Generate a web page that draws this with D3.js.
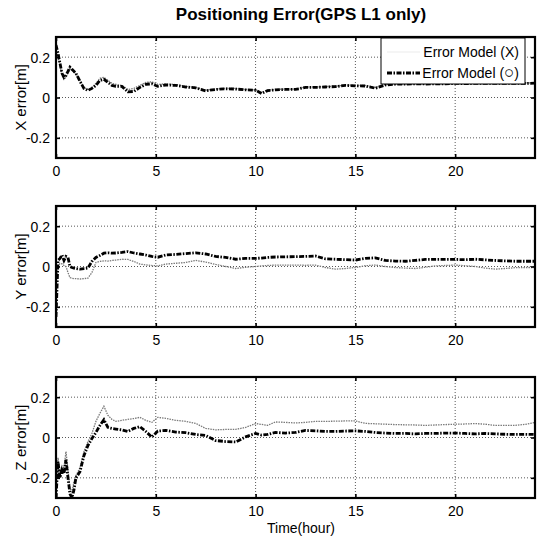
<!DOCTYPE html>
<html>
<head>
<meta charset="utf-8">
<script src="https://cdn.jsdelivr.net/npm/d3@7"></script>
<style>
  body { margin: 0; background: #fff; }
  text { font-family: "Liberation Sans", Arial, sans-serif; fill: #000; }
</style>
</head>
<body>
<div class="chart"></div>
<script>
// time axis (hours)
const timeHours = [0, 0.1, 0.2, 0.3, 0.4, 0.5, 0.6, 0.7, 0.8, 0.9, 1.0, 1.2, 1.4, 1.6, 1.8,
  2.0, 2.2, 2.4, 2.6, 2.8, 3.0, 3.3, 3.6, 3.9, 4.2, 4.5, 4.8, 5.1, 5.5, 6, 6.5, 7, 7.5, 8,
  8.5, 9, 9.5, 10, 10.3, 10.6, 11, 11.5, 12, 12.5, 13, 13.5, 14, 14.5, 15, 15.5, 16, 16.5,
  17, 17.5, 18, 18.5, 19, 19.5, 20, 20.5, 21, 21.5, 22, 22.5, 23, 23.5, 24];

// X error [m]
const xErrModelX = [0.24, 0.20, 0.16, 0.11, 0.09, 0.10, 0.12, 0.14, 0.135, 0.125, 0.115, 0.085, 0.05, 0.04, 0.05,
  0.07, 0.095, 0.1, 0.085, 0.07, 0.065, 0.06, 0.04, 0.045, 0.06, 0.075, 0.078, 0.065, 0.068, 0.064, 0.055, 0.05, 0.036, 0.042,
  0.046, 0.045, 0.04, 0.038, 0.025, 0.036, 0.04, 0.042, 0.042, 0.052, 0.052, 0.055, 0.056, 0.062, 0.06, 0.06, 0.05, 0.064,
  0.068, 0.068, 0.07, 0.069, 0.07, 0.07, 0.072, 0.071, 0.072, 0.072, 0.073, 0.072, 0.072, 0.072, 0.073];
const xErrModelO = [0.26, 0.22, 0.17, 0.12, 0.10, 0.11, 0.13, 0.15, 0.14, 0.13, 0.12, 0.08, 0.045, 0.035, 0.045,
  0.06, 0.085, 0.09, 0.075, 0.06, 0.055, 0.055, 0.028, 0.03, 0.05, 0.065, 0.068, 0.055, 0.062, 0.06, 0.052, 0.048, 0.033, 0.04,
  0.043, 0.042, 0.038, 0.036, 0.02, 0.034, 0.038, 0.04, 0.04, 0.05, 0.05, 0.052, 0.054, 0.06, 0.058, 0.057, 0.046, 0.062,
  0.066, 0.066, 0.068, 0.067, 0.068, 0.068, 0.07, 0.069, 0.07, 0.07, 0.071, 0.07, 0.07, 0.07, 0.071];

// Y error [m]
const yErrModelX = [-0.1, 0.0, 0.015, 0.013, 0.005, 0.0, -0.03, -0.055, -0.058, -0.06, -0.06, -0.062, -0.06, -0.058, -0.03,
  0.02, 0.025, 0.028, 0.027, 0.03, 0.032, 0.036, 0.035, 0.025, 0.012, 0.008, 0.005, 0.003, 0.012, 0.016, 0.02, 0.03, 0.022, 0.01,
  0.0, -0.01, -0.004, 0.0, 0.003, 0.005, 0.007, 0.007, 0.007, 0.006, 0.007, -0.005, -0.013, -0.01, -0.005, 0.004, 0.007, 0.0,
  -0.005, -0.008, -0.01, -0.004, 0.003, 0.005, 0.007, 0.004, 0.0, -0.008, -0.013, -0.01, -0.006, -0.005, -0.005];
const yErrModelO = [-0.25, 0.03, 0.04, 0.057, 0.03, 0.05, 0.045, 0.0, -0.005, -0.008, -0.01, -0.013, -0.01, -0.008, 0.025,
  0.045, 0.055, 0.066, 0.068, 0.066, 0.067, 0.07, 0.074, 0.067, 0.062, 0.057, 0.05, 0.046, 0.057, 0.06, 0.064, 0.068, 0.062, 0.05,
  0.045, 0.036, 0.04, 0.04, 0.042, 0.045, 0.047, 0.048, 0.049, 0.05, 0.052, 0.038, 0.036, 0.034, 0.032, 0.04, 0.043, 0.03,
  0.027, 0.026, 0.03, 0.035, 0.035, 0.035, 0.035, 0.034, 0.036, 0.033, 0.03, 0.028, 0.026, 0.026, 0.026];

// Z error [m]
const zErrModelX = [-0.28, -0.1, -0.18, -0.14, -0.15, -0.07, -0.16, -0.25, -0.27, -0.22, -0.19, -0.15, -0.07, -0.02, 0.02,
  0.08, 0.12, 0.155, 0.11, 0.09, 0.08, 0.085, 0.09, 0.094, 0.1, 0.085, 0.075, 0.1, 0.095, 0.085, 0.08, 0.07, 0.045, 0.038,
  0.04, 0.04, 0.05, 0.069, 0.065, 0.06, 0.077, 0.075, 0.072, 0.075, 0.08, 0.08, 0.081, 0.082, 0.082, 0.07, 0.068, 0.066,
  0.064, 0.063, 0.062, 0.06, 0.062, 0.064, 0.066, 0.067, 0.069, 0.066, 0.06, 0.06, 0.06, 0.065, 0.075];
const zErrModelO = [-0.3, -0.12, -0.2, -0.16, -0.18, -0.11, -0.2, -0.28, -0.3, -0.26, -0.2, -0.17, -0.09, -0.04, -0.005,
  0.025, 0.06, 0.088, 0.05, 0.045, 0.042, 0.038, 0.03, 0.045, 0.054, 0.03, 0.002, 0.032, 0.035, 0.027, 0.024, 0.015, 0.01, -0.015,
  -0.02, -0.022, 0.003, 0.02, 0.012, 0.015, 0.025, 0.022, 0.025, 0.035, 0.033, 0.03, 0.03, 0.032, 0.033, 0.03, 0.025, 0.022,
  0.02, 0.02, 0.018, 0.02, 0.02, 0.022, 0.022, 0.02, 0.018, 0.02, 0.018, 0.016, 0.015, 0.016, 0.015];

const xTicks = [0, 5, 10, 15, 20];
const yTicks = [-0.2, 0, 0.2];
const panelLabels = ["X error[m]", "Y error[m]", "Z error[m]"];
const legendLabels = ["Error Model (X)", "Error Model (\u25CB)"];
const titleText = "Positioning Error(GPS L1 only)";
const xLabelText = "Time(hour)";

const panels = [
  { label: panelLabels[0], modelX: xErrModelX, modelO: xErrModelO },
  { label: panelLabels[1], modelX: yErrModelX, modelO: yErrModelO },
  { label: panelLabels[2], modelX: zErrModelX, modelO: zErrModelO },
];

// layout
const W = 544, H = 539;
const plotLeft = 56, plotRight = 535;
const panelTops = [37, 206, 377];
const panelH = 121;

const svg = d3
  .select(".chart")
  .append("svg")
  .attr("width", W)
  .attr("height", H);

const x = d3.scaleLinear().domain([0, 24]).range([plotLeft, plotRight]);

svg
  .append("text")
  .attr("x", 301)
  .attr("y", 20)
  .attr("text-anchor", "middle")
  .style("font-size", "17px")
  .style("font-weight", "bold")
  .text(titleText);

panels.forEach((p, i) => {
  const top = panelTops[i];
  const y = d3.scaleLinear().domain([-0.3, 0.3]).range([top + panelH, top]);
  const g = svg.append("g");

  // grid (dotted)
  g.append("g")
    .selectAll("line")
    .data(xTicks.slice(1))
    .join("line")
    .attr("x1", (d) => x(d))
    .attr("x2", (d) => x(d))
    .attr("y1", top)
    .attr("y2", top + panelH)
    .attr("stroke", "#444")
    .attr("stroke-width", 0.9)
    .attr("stroke-dasharray", "1,2");
  g.append("g")
    .selectAll("line")
    .data(yTicks)
    .join("line")
    .attr("x1", plotLeft)
    .attr("x2", plotRight)
    .attr("y1", (d) => y(d))
    .attr("y2", (d) => y(d))
    .attr("stroke", "#444")
    .attr("stroke-width", 0.9)
    .attr("stroke-dasharray", "1,2");

  // clip for data lines
  svg
    .append("clipPath")
    .attr("id", "clip" + i)
    .append("rect")
    .attr("x", plotLeft)
    .attr("y", top)
    .attr("width", plotRight - plotLeft)
    .attr("height", panelH);

  const line = d3
    .line()
    .x((d, k) => x(timeHours[k]))
    .y((d) => y(d));

  const lines = g.append("g").attr("clip-path", `url(#clip${i})`);
  lines
    .append("path")
    .datum(p.modelX)
    .attr("fill", "none")
    .attr("stroke", "#7a7a7a")
    .attr("stroke-width", 1.3)
    .attr("stroke-dasharray", "1.5,1")
    .attr("d", line);
  lines
    .append("path")
    .datum(p.modelO)
    .attr("fill", "none")
    .attr("stroke", "#000")
    .attr("stroke-width", 2.8)
    .attr("stroke-dasharray", "5,1.5,1.5,1.5")
    .attr("d", line);

  // axes: ticks inward, labels outside
  const fmt = (d) => (d === 0 ? "0" : d.toFixed(1));
  const yAxis = g
    .append("g")
    .attr("transform", `translate(${plotLeft},0)`)
    .call(d3.axisLeft(y).tickValues(yTicks).tickFormat(fmt).tickSize(-4).tickPadding(6));
  g.append("g")
    .attr("transform", `translate(0,${top + panelH})`)
    .call(d3.axisBottom(x).tickValues(xTicks).tickSize(-4).tickPadding(8));
  g.append("g")
    .attr("transform", `translate(${plotRight},0)`)
    .call(d3.axisRight(y).tickValues(yTicks).tickFormat("").tickSize(-4));
  g.append("g")
    .attr("transform", `translate(0,${top})`)
    .call(d3.axisTop(x).tickValues(xTicks).tickFormat("").tickSize(-4));

  g.selectAll(".domain").remove();
  g.selectAll(".tick line").attr("stroke", "#000").attr("stroke-width", 1.6);
  g.selectAll(".tick text").style("font-size", "14px").style("fill", "#000");
  yAxis.selectAll(".tick text").attr("dy", "0.35em");

  // box
  g.append("rect")
    .attr("x", plotLeft)
    .attr("y", top)
    .attr("width", plotRight - plotLeft)
    .attr("height", panelH)
    .attr("fill", "none")
    .attr("stroke", "#000")
    .attr("stroke-width", 2.2);

  // y label
  g.append("text")
    .attr("transform", `translate(21,${top + panelH / 2}) rotate(-90)`)
    .attr("text-anchor", "middle")
    .attr("dy", "0.35em")
    .style("font-size", "15px")
    .text(p.label);

  // legend in first panel
  if (i === 0) {
    const lg = g.append("g");
    lg.append("rect")
      .attr("x", 381)
      .attr("y", top + 1)
      .attr("width", 144)
      .attr("height", 46)
      .attr("fill", "#fff")
      .attr("stroke", "#000")
      .attr("stroke-width", 1);
    const rows = [
      { label: legendLabels[0], stroke: "#ececec", w: 1.2, dash: null },
      { label: legendLabels[1], stroke: "#000", w: 2.8, dash: "5,1.5,1.5,1.5" },
    ];
    rows.forEach((r, k) => {
      const ly = top + 15 + k * 21;
      lg.append("line")
        .attr("x1", 387)
        .attr("x2", 420)
        .attr("y1", ly)
        .attr("y2", ly)
        .attr("stroke", r.stroke)
        .attr("stroke-width", r.w)
        .attr("stroke-dasharray", r.dash);
      // split label so the bracketed symbol can be sized like the capitals
      const m = r.label.match(/^(.*\()(.)(\))$/);
      const t = lg.append("text")
        .attr("x", 519)
        .attr("y", ly)
        .attr("dy", "0.35em")
        .attr("text-anchor", "end")
        .style("font-size", "14px");
      t.append("tspan").text(m[1]);
      t.append("tspan")
        .style("font-size", m[2] === "\u25CB" ? "17px" : "14px")
        .text(m[2]);
      t.append("tspan").text(m[3]);
    });
  }
});

svg
  .append("text")
  .attr("x", 301)
  .attr("y", 533)
  .attr("text-anchor", "middle")
  .style("font-size", "14px")
  .text(xLabelText);
</script>
</body>
</html>
